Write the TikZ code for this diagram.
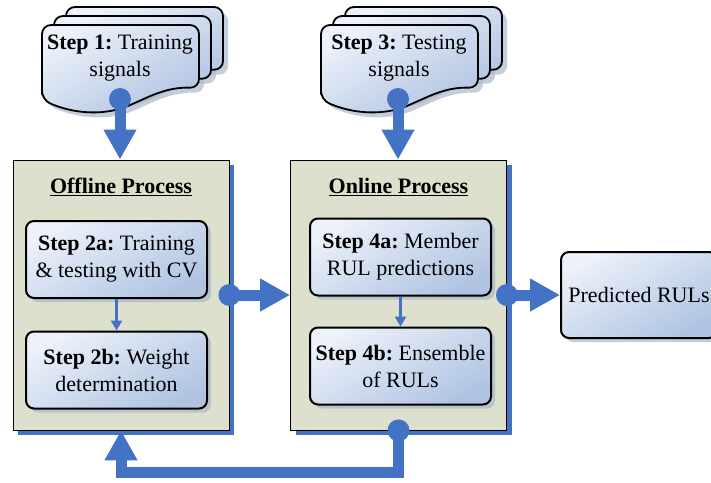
\documentclass[tikz,border=0pt]{standalone}
\usepackage{fontspec}
\setmainfont{Liberation Serif}
\usetikzlibrary{arrows.meta,shadows,calc}
\frenchspacing

\definecolor{flowblue}{RGB}{68,114,196}
\definecolor{procfill}{RGB}{221,224,204}
\definecolor{stepLight}{RGB}{236,241,250}
\definecolor{stepDark}{RGB}{176,196,226}
\definecolor{stepShadow}{RGB}{172,184,202}

% outline of one sheet of the stacked-document symbol, top-left corner at the origin
\newcommand\sheetoutline{(0,75) -- (0,0) -- (157,0) -- (157,63)
  .. controls (130,62) and (115,68) .. (95,77)
  .. controls (70,88) and (40,92) .. (0,75) -- cycle}

\tikzset{
  txt/.style={font=\fontsize{22}{27}\selectfont, align=center, inner sep=0pt},
  process/.style={draw=black, line width=0.9pt, fill=procfill, inner sep=0pt,
    minimum width=216pt, minimum height=270pt,
    drop shadow={shadow xshift=5pt, shadow yshift=-5pt, fill=flowblue, opacity=1}},
  stepbox/.style={txt, draw=black, line width=2pt, rounded corners=8pt,
    top color=stepLight, bottom color=stepDark, shading angle=30,
    minimum width=181pt, minimum height=77pt,
    drop shadow={shadow xshift=4pt, shadow yshift=-4pt, fill=stepShadow, opacity=0.7}},
  sheet/.style={draw=black, line width=1.8pt, rounded corners=9pt,
    top color=stepLight, bottom color=stepDark, shading angle=30},
  sheetshadow/.style={fill=stepShadow, opacity=0.7, rounded corners=9pt},
  bigarrow/.style={draw=flowblue, line width=11pt, -{Triangle[length=30pt,width=31pt]}},
  thinarrow/.style={draw=flowblue, line width=2.5pt, -{Triangle[length=10pt,width=11pt]}},
  knob/.style={fill=flowblue},
}

\begin{document}
\begin{tikzpicture}[x=1pt, y=-1pt]
\useasboundingbox (0,0) rectangle (711,482);
\clip (0,0) rectangle (711,482);

% stacked documents: shadows first, then sheets from back to front
\foreach \ox/\oy in {66/7, 54/16, 42/25, 345/7, 333/16, 321/25} {
  \path[sheetshadow, shift={(\ox+5,\oy+5)}] \sheetoutline;
}
\foreach \ox/\oy in {66/7, 54/16, 42/25} {
  \path[sheet, shift={(\ox,\oy)}] \sheetoutline;
}
\foreach \ox/\oy in {345/7, 333/16, 321/25} {
  \path[sheet, shift={(\ox,\oy)}] \sheetoutline;
}
\node[txt] (s1) at (120,58) {\textbf{Step 1:} Training\\signals};
\node[txt] (s3) at (399,58) {\textbf{Step 3:} Testing\\signals};
\coordinate (c1) at (120,99);
\coordinate (c3) at (398,99);

% process frames
\node[process] (off) at (121,295) {};
\node[process] (on) at (398.5,295) {};
\node[txt] (offt) at (121,187) {\underline{\textbf{Offline Process}}};
\node[txt] (ont) at (398.5,187) {\underline{\textbf{Online Process}}};

% steps
\node[stepbox] (s2a) at (116.5,259.5) {\textbf{Step 2a:} Training\\\& testing with CV};
\node[stepbox] (s2b) at (116.5,370) {\textbf{Step 2b:} Weight\\determination};
\node[stepbox] (s4a) at (400.5,257) {\textbf{Step 4a:} Member\\RUL predictions};
\node[stepbox] (s4b) at (400.5,366) {\textbf{Step 4b:} Ensemble\\of RULs};
\node[stepbox, minimum width=156pt, minimum height=86pt] (pred) at (639,295) {Predicted RULs};

% connectors
\draw[thinarrow] (s2a) -- (s2b);
\draw[thinarrow] (s4a) -- (s4b);

\draw[bigarrow] (c1) -- (c1 |- off.north);
\fill[knob] (c1) circle (11pt);
\draw[bigarrow] (c3) -- (c3 |- on.north);
\fill[knob] (c3) circle (11pt);

\draw[bigarrow] (off.east) -- (on.west);
\fill[knob] (off.east) circle (11pt);
\draw[bigarrow] (on.east) -- (pred.west);
\fill[knob] (on.east) circle (11pt);

\draw[bigarrow] (on.south) -- ++(0,42) -| (off.south);
\fill[knob] (on.south) circle (11pt);
\end{tikzpicture}
\end{document}
